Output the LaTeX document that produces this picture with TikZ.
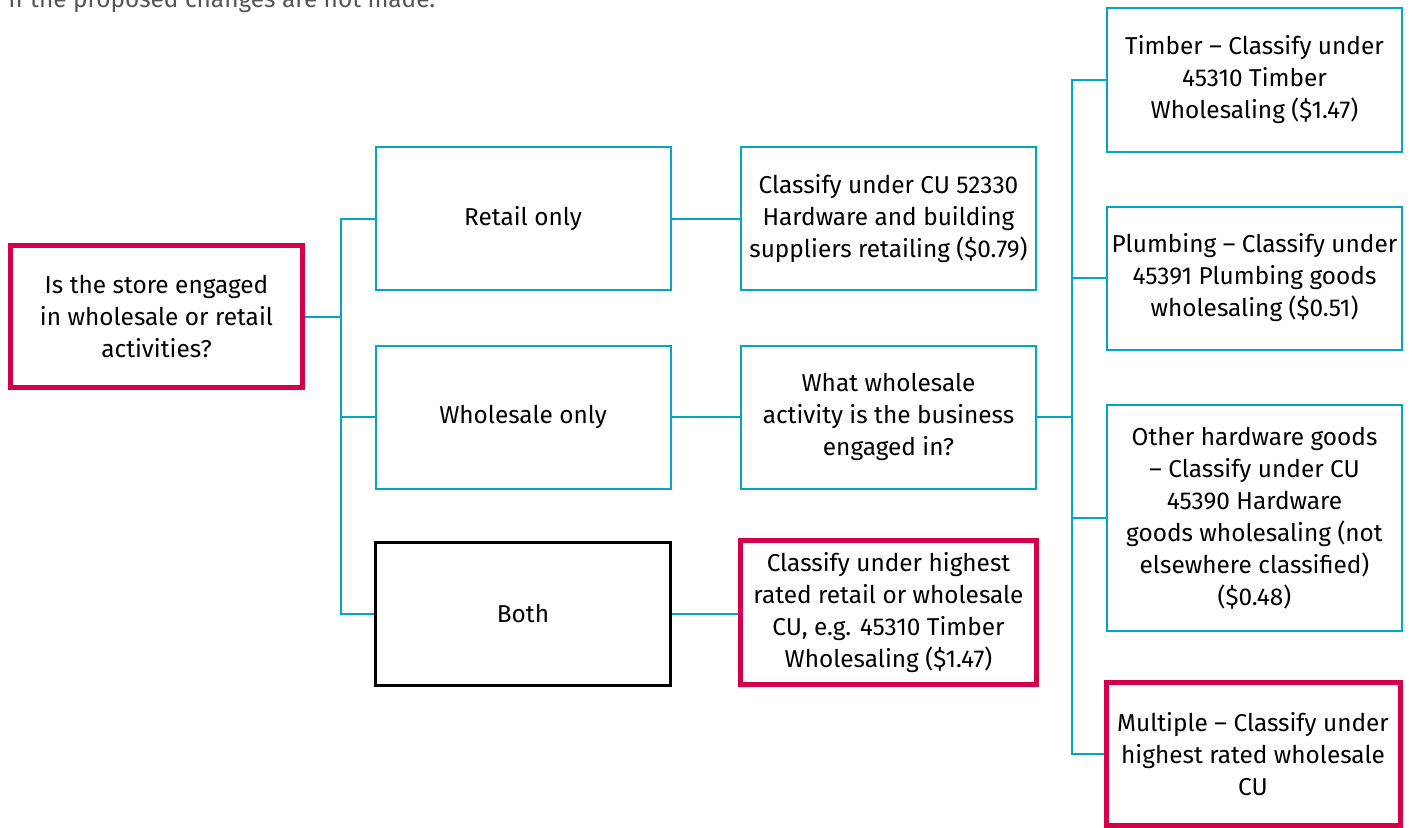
\documentclass[tikz,border=0pt]{standalone}
\usepackage{fontspec}
\setmainfont{Fira Sans}
\usepackage{tikz}
\definecolor{crimson}{RGB}{213,0,76}
\definecolor{cyanblue}{RGB}{0,166,196}
\definecolor{greytext}{RGB}{85,85,85}
\tikzset{%
    box/.style={%
        draw=cyanblue, line width=1pt, align=center, inner sep=2pt,
        minimum width=147.5pt, minimum height=71.5pt,
        font=\fontsize{12.2}{16}\selectfont
    },
    keybox/.style={box, draw=crimson, line width=2.5pt, minimum width=147pt},
    plainbox/.style={box, draw=black, line width=1.25pt},
    link/.style={draw=cyanblue, line width=1pt}
}

\begin{document}
\begin{tikzpicture}[x=0.5pt, y=-0.5pt]
    \useasboundingbox (0,0) rectangle (1410,827);
    \node[anchor=base west, text=greytext, font=\fontsize{12.2}{16}\selectfont, inner sep=0pt] (note) at (8,7) {If the proposed changes are not made.};
%-----------------------------------------------
    \node[keybox, minimum width=146pt, minimum height=71pt] (store) at (156.5,316.5) {Is the store engaged\\in wholesale or retail\\activities?};
%-----------------------------------------------
    \node[box] (retail) at (523,218.5) {Retail only};
    \node[box] (wholesale) at (523,417) {Wholesale only};
    \node[plainbox] (both) at (523,614) {Both};
%-----------------------------------------------
    \node[box] (hardware) at (888.5,218.5) {Classify under CU 52330\\Hardware and building\\suppliers retailing (\$0.79)};
    \node[box] (activity) at (888.5,417) {What wholesale\\activity is the business\\engaged in?};
    \node[keybox, minimum width=148pt, minimum height=72pt] (highest) at (888.5,612.5) {Classify under highest\\rated retail or wholesale\\CU, e.g. 45310 Timber\\Wholesaling (\$1.47)};
%-----------------------------------------------
    \node[box, minimum height=72pt] (timber) at (1254.5,80) {Timber – Classify under\\45310 Timber\\Wholesaling (\$1.47)};
    \node[box] (plumbing) at (1254.5,278) {Plumbing – Classify under\\45391 Plumbing goods\\wholesaling (\$0.51)};
    \node[box, minimum height=113pt] (other) at (1254.5,518) {Other hardware goods\\– Classify under CU\\45390 Hardware\\goods wholesaling (not\\elsewhere classified)\\(\$0.48)};
    \node[keybox, minimum height=71.5pt] (multiple) at (1253,754) {Multiple – Classify under\\highest rated wholesale\\CU};
%-----------------------------------------------
    \coordinate (fork1) at (341,316.5);
    \coordinate (fork2) at (1072,417);
    \draw[link] (store.east) -- (fork1);
    \draw[link] (retail.west) -- (retail.west -| fork1) -- (both.west -| fork1) -- (both.west);
    \draw[link] (wholesale.west) -- (wholesale.west -| fork1);
    \draw[link] (retail.east) -- (hardware.west);
    \draw[link] (wholesale.east) -- (activity.west);
    \draw[link] (both.east) -- (both.east -| highest.west);
%-----------------------------------------------
    \draw[link] (activity.east) -- (fork2);
    \draw[link] (timber.west) -- (timber.west -| fork2) -- (multiple.west -| fork2) -- (multiple.west);
    \draw[link] (plumbing.west) -- (plumbing.west -| fork2);
    \draw[link] (other.west) -- (other.west -| fork2);
\end{tikzpicture}
\end{document}
